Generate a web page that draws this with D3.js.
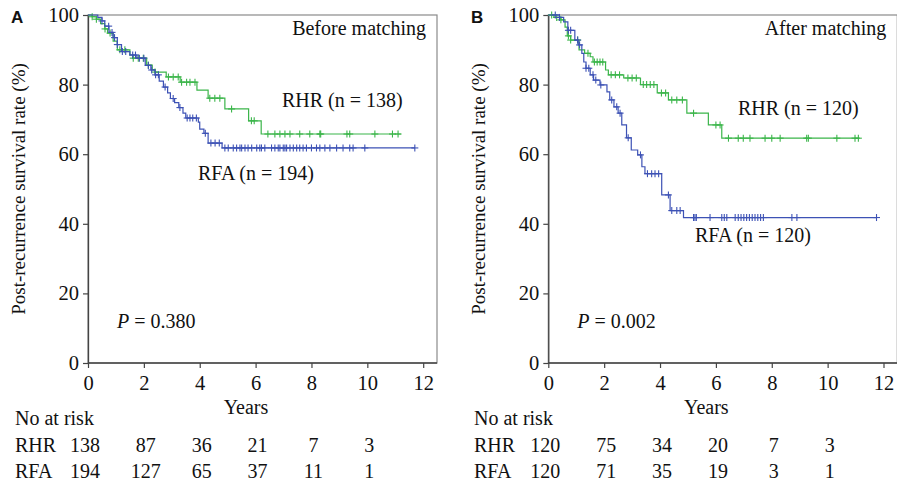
<!DOCTYPE html>
<html>
<head>
<meta charset="utf-8">
<script src="https://cdn.jsdelivr.net/npm/d3@7"></script>
<style>
  body { margin: 0; background: #fff; }
  text { font-family: "Liberation Serif", "Times New Roman", serif; fill: #111; }
</style>
</head>
<body>
<script>
// step data [years, survival %]
const rhrA = [[0,100],[0.15,99.5],[0.3,98.8],[0.45,97.5],[0.6,96],[0.7,94.8],[0.9,92.5],[1.05,90],[1.5,88.5],[1.6,87.6],[2.1,85.6],[2.3,84.3],[2.4,83.6],[2.8,82.2],[3.3,80.7],[3.9,78.4],[4.3,76.1],[4.9,73],[5.75,69.6],[6.2,65.8]];
const rfaA = [[0,100],[0.35,99.3],[0.5,98.3],[0.6,96.8],[0.75,95],[0.9,93.5],[1.05,91.5],[1.2,89.5],[1.5,88.5],[1.75,87.6],[2.05,85.5],[2.25,84.2],[2.4,82.8],[2.55,81],[2.7,79.3],[2.85,77.6],[2.95,76],[3.1,74.8],[3.25,73.4],[3.4,71.8],[3.5,70.4],[3.95,69.2],[4.0,67.2],[4.15,66],[4.3,63.2],[4.8,61.8]];
const rhrB = [[0,100],[0.2,99.3],[0.45,98.6],[0.6,96.5],[0.68,94],[0.8,92.8],[1.1,90],[1.3,89],[1.5,88],[1.6,86.5],[2.05,84.2],[2.15,82.8],[2.7,81.9],[3.3,80],[3.9,77.6],[4.3,75.6],[4.96,71.8],[5.73,68.4],[6.21,64.6]];
const rfaB = [[0,100],[0.4,99.3],[0.55,98],[0.7,95.6],[0.95,92.8],[1.07,91.4],[1.2,89],[1.27,86.5],[1.35,84.7],[1.5,82.8],[1.62,81.3],[1.85,79.9],[2.1,77.9],[2.2,75.6],[2.35,73.6],[2.5,71.8],[2.63,68.4],[2.8,64.7],[2.97,61.2],[3.2,59.8],[3.35,56.4],[3.46,54.4],[4.06,48.3],[4.36,43.8],[4.84,41.8]];

// last follow-up time of each curve
const endA = {rhr: 11.2, rfa: 11.7};
const endB = {rhr: 11.15, rfa: 11.75};

// censored times
const rhrA_cens = [0.15,0.3,0.61,0.79,1.14,1.32,1.62,1.8,1.98,2.16,2.4,2.88,3.05,3.23,3.35,3.53,3.65,3.83,4.36,4.54,4.72,5.14,5.85,5.95,6.44,6.69,6.87,7.05,7.23,7.58,7.94,8.3,8.33,9.27,9.37,10.27,10.9,11.1];
const rfaA_cens = [0.5,0.74,0.86,0.95,1.05,1.23,1.35,1.6,1.7,1.84,2.0,2.16,2.28,2.42,2.52,2.76,3.05,3.29,3.55,3.65,3.75,3.88,4.2,4.4,4.55,4.7,4.9,5.02,5.2,5.32,5.44,5.5,5.62,5.73,5.86,6.04,6.15,6.21,6.33,6.57,6.69,6.81,6.87,6.99,7.05,7.11,7.23,7.35,7.47,7.58,7.7,7.82,8.0,8.18,8.3,8.48,8.66,8.9,9.13,9.37,9.49,9.91,11.7];
const rhrB_cens = [0.12,0.3,0.45,0.72,0.8,1.05,1.42,1.65,1.75,1.85,1.95,2.25,2.4,2.55,2.85,3.0,3.15,3.4,3.52,3.65,3.78,4.05,4.2,4.42,4.6,4.8,5.2,6.0,6.15,6.45,6.8,6.98,7.22,7.76,8.0,8.3,9.25,9.31,10.33,10.98,11.1];
const rfaB_cens = [0.25,0.4,0.72,0.8,1.05,1.12,1.35,1.45,1.6,1.7,1.88,2.27,2.45,2.57,2.86,3.3,3.55,3.7,3.82,3.95,4.3,4.42,4.6,4.72,5.2,5.25,5.3,5.79,6.21,6.3,6.39,6.69,6.8,6.9,7.0,7.1,7.2,7.3,7.4,7.5,7.6,7.7,8.72,8.9,11.75];

// number at risk table
const riskYears = [0, 2, 4, 6, 8, 10];
const riskA_rhr = [138, 87, 36, 21, 7, 3];
const riskA_rfa = [194, 127, 65, 37, 11, 1];
const riskB_rhr = [120, 75, 34, 20, 7, 3];
const riskB_rfa = [120, 71, 35, 19, 3, 1];

const xTicks = [0, 2, 4, 6, 8, 10, 12];
const yTicks = [0, 20, 40, 60, 80, 100];

const GREEN = "#3bb54a", BLUE = "#3d52b5";

const svg = d3.select("body").append("svg")
  .attr("width", 897).attr("height", 483);

function survAt(steps, t) {
  let s = steps[0][1];
  for (const d of steps) { if (d[0] <= t) s = d[1]; }
  return s;
}

function drawPanel(p) {
  const x = d3.scaleLinear().domain([0, 12]).range([p.x0, p.x0 + 335.2]);
  const y = d3.scaleLinear().domain([0, 100]).range([363, 15]);
  const g = svg.append("g");

  // frame
  g.append("rect").attr("x", p.x0).attr("y", 15)
    .attr("width", 349).attr("height", 348)
    .attr("fill", "none").attr("stroke", "#8a8a8a").attr("stroke-width", 1.2);

  const xa = g.append("g").attr("transform", "translate(0,363)")
    .call(d3.axisBottom(x).tickValues(xTicks).tickSize(5).tickPadding(7).tickSizeOuter(0));
  const ya = g.append("g").attr("transform", `translate(${p.x0},0)`)
    .call(d3.axisLeft(y).tickValues(yTicks).tickSize(5).tickPadding(4).tickSizeOuter(0));
  [xa, ya].forEach(a => {
    a.select(".domain").attr("stroke", "#444").attr("stroke-width", 1.3);
    a.selectAll(".tick line").attr("stroke", "#444").attr("stroke-width", 1.2);
    a.selectAll(".tick text").style("font-family", "Liberation Serif").style("font-size", "20.5px").attr("fill", "#111");
  });
  xa.select(".domain").attr("d", `M${p.x0},0H${p.x0 + 349}`);

  const line = d3.line().curve(d3.curveStepAfter).x(d => x(d[0])).y(d => y(d[1]));
  p.series.forEach(s => {
    const pts = s.steps.concat([[s.end, s.steps[s.steps.length - 1][1]]]);
    g.append("path").attr("d", line(pts)).attr("fill", "none")
      .attr("stroke", s.color).attr("stroke-width", 1.2);
    const cg = g.append("g").attr("stroke", s.color).attr("stroke-width", 1.1);
    s.cens.forEach(t => {
      const cx = x(t), cy = y(survAt(s.steps, t));
      cg.append("line").attr("x1", cx - 3.5).attr("x2", cx + 3.5).attr("y1", cy).attr("y2", cy);
      cg.append("line").attr("x1", cx).attr("x2", cx).attr("y1", cy - 3.5).attr("y2", cy + 3.5);
    });
  });

  // panel letter
  g.append("text").attr("x", p.letterX).attr("y", 23).text(p.letter)
    .style("font-family", "Liberation Sans, Arial, sans-serif").style("font-weight", "bold").style("font-size", "17px");

  // y axis title
  g.append("text").attr("transform", `translate(${p.x0 - 63},189) rotate(-90)`)
    .attr("text-anchor", "middle").style("font-size", "19px")
    .text("Post-recurrence survival rate (%)");

  g.append("text").attr("x", p.x0 + 338).attr("y", 35).attr("text-anchor", "end")
    .style("font-size", "20px").text(p.title);

  p.labels.forEach(l => {
    g.append("text").attr("x", l.x).attr("y", l.y).style("font-size", "20px").text(l.text);
  });

  const pt = g.append("text").attr("x", p.x0 + 29).attr("y", 328).style("font-size", "20px");
  pt.append("tspan").style("font-style", "italic").text("P");
  pt.append("tspan").text(" = " + p.pval);

  g.append("text").attr("x", p.x0 + 158).attr("y", 414).attr("text-anchor", "middle")
    .style("font-size", "20px").text("Years");

  // at risk table
  g.append("text").attr("x", p.tableX).attr("y", 425).style("font-size", "20px").text("No at risk");
  p.risk.forEach((r, i) => {
    const ry = 452 + i * 26;
    g.append("text").attr("x", p.tableX).attr("y", ry).style("font-size", "20px").text(r.name);
    riskYears.forEach((yr, j) => {
      g.append("text").attr("x", x(yr) + (j === 0 ? -3 : 2)).attr("y", ry)
        .attr("text-anchor", "middle").style("font-size", "20px").text(r.vals[j]);
    });
  });
}

drawPanel({
  x0: 88, letter: "A", letterX: 11, title: "Before matching", pval: "0.380", tableX: 15,
  series: [
    {steps: rhrA, end: endA.rhr, cens: rhrA_cens, color: GREEN},
    {steps: rfaA, end: endA.rfa, cens: rfaA_cens, color: BLUE}
  ],
  labels: [{x: 282, y: 107, text: "RHR (n = 138)"}, {x: 198, y: 180, text: "RFA (n = 194)"}],
  risk: [{name: "RHR", vals: riskA_rhr}, {name: "RFA", vals: riskA_rfa}]
});

drawPanel({
  x0: 548.3, letter: "B", letterX: 471, title: "After matching", pval: "0.002", tableX: 474,
  series: [
    {steps: rhrB, end: endB.rhr, cens: rhrB_cens, color: GREEN},
    {steps: rfaB, end: endB.rfa, cens: rfaB_cens, color: BLUE}
  ],
  labels: [{x: 738, y: 115, text: "RHR (n = 120)"}, {x: 695, y: 242, text: "RFA (n = 120)"}],
  risk: [{name: "RHR", vals: riskB_rhr}, {name: "RFA", vals: riskB_rfa}]
});
</script>
</body>
</html>
